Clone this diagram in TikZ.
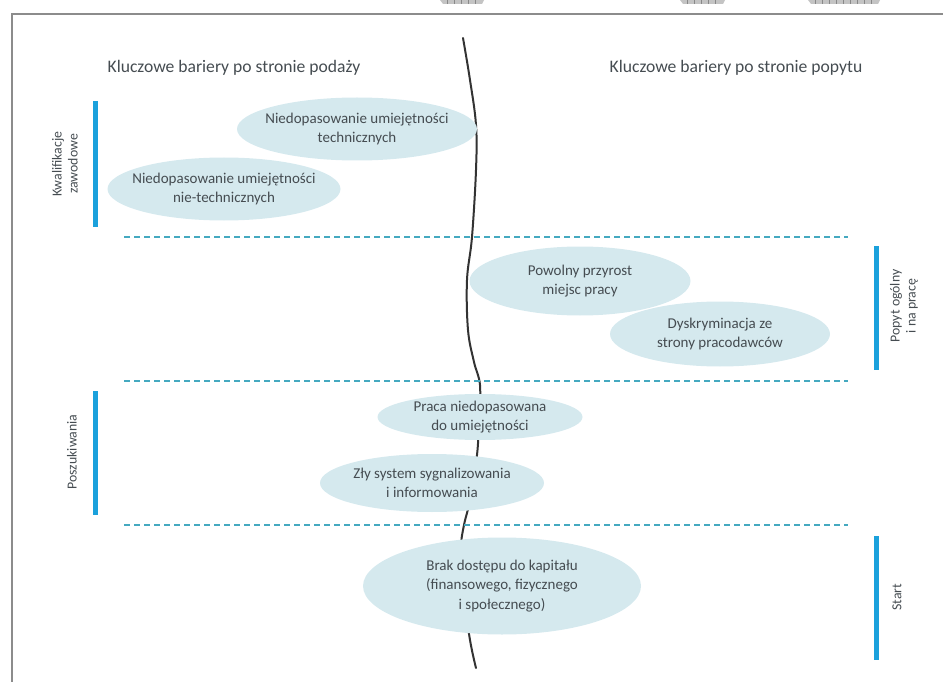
\documentclass[tikz,border=0pt]{standalone}
\usepackage{fontspec}
\setmainfont{Carlito}
\usetikzlibrary{shapes.geometric}
\definecolor{barblue}{HTML}{1BA1DC}
\definecolor{dashteal}{HTML}{45A9C0}
\definecolor{bubblefill}{HTML}{D5E9EE}
\definecolor{txtgray}{HTML}{454C51}
\definecolor{framegray}{HTML}{8C8C8C}
\definecolor{markgray}{HTML}{C4C4C4}
\begin{document}
\begin{tikzpicture}[x=1pt,y=-1pt,
  bubble/.style={ellipse, fill=bubblefill, inner xsep=-30pt, inner ysep=-8pt,
    align=center, text=txtgray, font=\fontsize{15}{19.5}\selectfont},
  sidebar/.style={barblue, line width=5pt},
  sidelabel/.style={rotate=90, align=center, text=txtgray,
    font=\fontsize{13.8}{16}\selectfont},
  header/.style={text=txtgray, font=\fontsize{17.6}{21}\selectfont},
  rowsep/.style={dashteal, line width=1.1pt, dash pattern=on 6pt off 4pt},
  divider/.style={black!80, line width=2pt, line cap=round}]
\useasboundingbox (0,0) rectangle (943,682);

% page frame
\draw[framegray, line width=1.5pt] (12,682) -- (12,14) -- (943,14);

% small printed marks along the upper edge
\foreach \a/\b/\n in {440/484/5, 680/725/5, 808/880/9}{
  \fill[markgray] (\a,0) -- (\b,0) -- (\b-2,4) -- (\a+3,4) -- cycle;
  \foreach \k in {1,...,\n}{
    \draw[markgray!70!black, line width=0.3pt] ({\a+7*\k},0) -- ({\a+7*\k},4);}
}

% column headers
\node[header] (hsupply) at (234,68) {Kluczowe bariery po stronie podaży};
\node[header] (hdemand) at (736,68) {Kluczowe bariery po stronie popytu};

% wavy divider between the two sides
\draw[divider] plot[smooth, tension=0.6] coordinates {
  (463,38) (470,80) (476,125) (476,170) (472,237) (467,280) (468,330)
  (474,362) (480,385) (479,420) (477,455) (470,500) (464,525) (461,548)
  (463,590) (470,640) (476,668)};

% row separators
\draw[rowsep] (124,237) -- (848,237);
\draw[rowsep] (124,381) -- (848,381);
\draw[rowsep] (124,525) -- (848,525);

% side bars and their labels
\draw[sidebar] (95,101) -- (95,227);
\node[sidelabel] (lkwal) at (65,164) {Kwalifikacje\\zawodowe};
\draw[sidebar] (95,391) -- (95,515);
\node[sidelabel] (lposz) at (72,452) {Poszukiwania};
\draw[sidebar] (876,246) -- (876,370);
\node[sidelabel] (lpopyt) at (904,306) {Popyt ogólny\\i na pracę};
\draw[sidebar] (876,536) -- (876,660);
\node[sidelabel] (lstart) at (897,597) {Start};

% barriers
\node[bubble, minimum width=240pt, minimum height=63pt] (techn) at (357,129)
  {Niedopasowanie umiejętności\\technicznych};
\node[bubble, minimum width=233pt, minimum height=63pt] (nontechn) at (224,189)
  {Niedopasowanie umiejętności\\nie-technicznych};
\node[bubble, minimum width=221pt, minimum height=69pt] (przyrost) at (580,281)
  {Powolny przyrost\\miejsc pracy};
\node[bubble, minimum width=220pt, minimum height=65pt] (dyskr) at (720,334)
  {Dyskryminacja ze\\strony pracodawców};
\node[bubble, minimum width=205pt, minimum height=46pt] (praca) at (480,417)
  {Praca niedopasowana\\do umiejętności};
\node[bubble, minimum width=224pt, minimum height=58pt] (sygnal) at (432,483)
  {Zły system sygnalizowania\\i informowania};
\node[bubble, minimum width=278pt, minimum height=97pt] (kapital) at (502,586)
  {Brak dostępu do kapitału\\(finansowego, fizycznego\\i społecznego)};
\end{tikzpicture}
\end{document}
